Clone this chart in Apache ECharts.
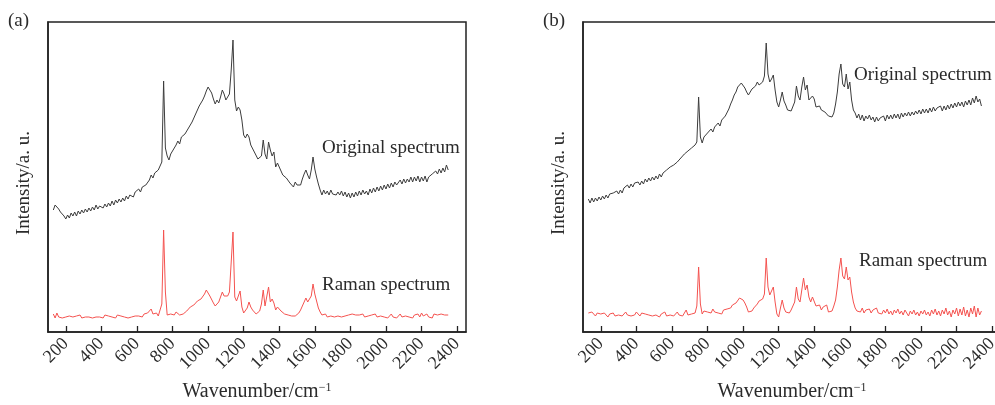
<!DOCTYPE html>
<html>
<head>
<meta charset="utf-8">
<script src="https://cdn.jsdelivr.net/npm/echarts@6/dist/echarts.min.js"></script>
<style>
  html, body { margin: 0; padding: 0; background: #fff; }
  #chart { width: 995px; height: 405px; }
</style>
</head>
<body>
<div id="chart"></div>
<script>
// wavenumber grid (cm-1), shared by all four traces
var wavenumbers = [
  130,140,150,160,170,180,190,200,210,220,
  230,240,250,260,270,280,290,300,310,320,
  330,340,350,360,370,380,390,400,410,420,
  430,440,450,460,470,480,490,500,510,520,
  530,540,550,560,570,580,590,600,610,620,
  630,640,650,660,670,680,690,700,710,720,
  730,740,750,760,770,780,790,800,810,820,
  830,840,850,860,870,880,890,900,910,920,
  930,940,950,960,970,980,990,1000,1010,1020,
  1030,1040,1050,1060,1070,1080,1090,1100,1110,1120,
  1130,1140,1150,1160,1170,1180,1190,1200,1210,1220,
  1230,1240,1250,1260,1270,1280,1290,1300,1310,1320,
  1330,1340,1350,1360,1370,1380,1390,1400,1410,1420,
  1430,1440,1450,1460,1470,1480,1490,1500,1510,1520,
  1530,1540,1550,1560,1570,1580,1590,1600,1610,1620,
  1630,1640,1650,1660,1670,1680,1690,1700,1710,1720,
  1730,1740,1750,1760,1770,1780,1790,1800,1810,1820,
  1830,1840,1850,1860,1870,1880,1890,1900,1910,1920,
  1930,1940,1950,1960,1970,1980,1990,2000,2010,2020,
  2030,2040,2050,2060,2070,2080,2090,2100,2110,2120,
  2130,2140,2150,2160,2170,2180,2190,2200,2210,2220,
  2230,2240,2250,2260,2270,2280,2290,2300,2310,2320,
  2330,2340,2350
];

// (a) original spectrum, arbitrary units
var origA = [
  122,127,129,123,120,118,116,113,117,114,
  119,116,120,116,121,118,122,119,123,120,
  124,121,125,122,127,123,126,128,124,128,
  125,129,126,131,127,132,129,133,130,134,
  131,136,133,137,138,135,140,139,143,140,
  145,143,147,148,152,157,154,159,157,162,
  163,170,251,184,176,172,178,181,183,187,
  191,188,195,194,198,199,204,203,210,212,
  218,222,226,228,232,236,241,245,243,239,
  233,228,232,229,235,242,238,232,234,238,
  262,292,232,221,225,222,212,197,194,198,
  195,187,185,180,179,173,172,176,192,178,
  173,190,182,176,180,165,169,165,161,157,
  158,154,153,149,149,145,150,147,147,147,
  153,158,162,157,153,162,175,163,155,148,
  142,137,142,138,141,137,142,138,139,137,
  140,137,141,136,140,135,139,134,139,135,
  140,136,141,137,142,138,141,137,143,139,
  144,140,145,141,146,142,147,143,148,144,
  149,145,150,147,149,152,148,153,149,153,
  150,155,150,155,151,156,150,155,151,156,
  150,155,154,158,156,161,158,163,159,164,
  160,167,162
];

// (a) extracted Raman spectrum
var ramanA = [
  18,14,19,15,17,14,16,15,17,16,
  17,15,17,16,15,17,14,16,15,17,
  15,16,14,16,15,17,15,16,14,17,
  15,16,18,15,16,14,17,15,16,18,
  15,17,14,16,15,17,16,18,16,17,
  15,18,17,19,21,23,18,17,19,16,
  18,28,102,40,17,15,18,16,17,20,
  18,17,19,18,19,21,22,25,24,27,
  29,31,30,33,35,38,42,41,36,35,
  29,26,28,30,35,40,36,34,36,40,
  70,100,35,31,36,41,25,19,18,24,
  30,25,22,20,18,19,21,28,42,26,
  27,45,30,33,29,22,25,27,21,19,
  18,19,17,18,16,17,16,18,19,22,
  26,30,34,30,29,36,48,38,31,24,
  20,17,16,18,15,17,16,18,15,17,
  16,18,15,17,16,14,17,15,18,16,
  17,15,17,16,18,15,17,16,14,17,
  16,18,15,17,16,18,15,17,14,16,
  18,15,17,14,16,18,15,17,16,18,
  15,17,14,17,16,18,15,19,16,14,
  18,15,17,14,18,16,17,15,18,16,
  17,15,17
];

// (b) original spectrum
var origB = [
  133,129,134,130,134,131,135,132,136,133,
  137,134,138,136,139,137,141,138,142,139,
  144,142,147,144,148,145,149,147,150,147,
  151,148,153,150,154,151,155,152,156,153,
  158,155,159,157,162,160,165,164,167,166,
  170,169,174,173,178,177,181,180,184,182,
  187,190,235,195,189,195,197,199,199,203,
  200,205,204,209,206,212,212,216,217,223,
  228,232,237,240,245,247,249,251,244,240,
  237,239,243,241,246,250,247,245,250,256,
  289,258,250,253,257,242,230,225,232,240,
  231,227,222,224,221,223,230,246,236,232,
  245,255,242,247,232,230,236,233,225,223,
  226,222,224,220,222,216,218,215,219,228,
  240,258,268,248,245,258,243,250,232,222,
  219,214,218,212,217,211,216,213,217,212,
  215,210,215,211,214,212,216,211,217,213,
  217,213,218,214,218,213,219,215,219,216,
  220,216,220,217,221,218,222,218,223,219,
  223,219,224,220,225,221,224,222,226,221,
  226,222,227,223,228,224,229,225,230,226,
  230,225,231,227,232,227,234,229,236,230,
  233,226
];

// (b) extracted Raman spectrum
var ramanB = [
  19,17,20,18,16,19,17,18,16,19,
  17,15,18,17,19,16,18,17,19,16,
  18,20,17,19,16,18,17,20,18,16,
  19,17,18,20,17,19,16,18,17,19,
  15,18,17,20,16,18,17,19,16,18,
  20,17,19,16,18,22,17,19,18,20,
  19,26,65,28,18,21,23,20,22,19,
  23,20,22,19,21,18,22,20,23,25,
  24,27,26,29,31,34,33,32,29,25,
  20,18,21,24,22,28,31,29,33,38,
  74,45,37,35,45,30,18,15,24,32,
  24,20,22,19,22,24,30,45,33,30,
  42,54,42,47,35,30,35,33,26,24,
  27,22,25,23,27,20,18,21,26,32,
  45,62,74,56,53,65,52,55,40,30,
  24,21,23,20,24,19,22,20,23,19,
  22,20,24,19,21,18,22,19,23,18,
  21,17,22,19,23,18,21,17,22,19,
  16,21,18,22,17,20,16,21,18,22,
  17,20,16,22,18,23,17,21,16,22,
  18,24,17,21,15,22,18,24,16,23,
  17,25,16,22,15,24,18,26,15,24,
  17,21
];

var tickValues = [200,400,600,800,1000,1200,1400,1600,1800,2000,2200,2400];

function pairs(ys) {
  var out = [];
  for (var i = 0; i < ys.length; i++) out.push([wavenumbers[i], ys[i]]);
  return out;
}

var serifFont = '"Liberation Serif", "Times New Roman", serif';
var inkColor = '#2b2b2b';

function makeX(idx) {
  return {
    gridIndex: idx,
    type: 'value',
    min: 100,
    max: 2450,
    axisLine: {show: true, lineStyle: {color: '#222', width: 1.5}},
    axisTick: {show: true, inside: true, length: 6, customValues: tickValues,
      lineStyle: {color: '#222', width: 1.3}},
    axisLabel: {show: true, rotate: 45, margin: 9, customValues: tickValues,
      formatter: function (v) { return String(v); },
      fontFamily: serifFont, fontSize: 18, color: inkColor},
    splitLine: {show: false},
    name: '{m|Wavenumber/cm}{s|\u22121}',
    nameLocation: 'middle',
    nameGap: 50,
    nameTextStyle: {
      rich: {
        m: {fontFamily: serifFont, fontSize: 20, color: inkColor},
        s: {fontFamily: serifFont, fontSize: 12, color: inkColor, verticalAlign: 'top'}
      }
    }
  };
}

function makeY(idx) {
  return {
    gridIndex: idx,
    type: 'value',
    min: 0,
    max: 310,
    axisLine: {show: true, lineStyle: {color: '#222', width: 1.5}},
    axisTick: {show: false},
    axisLabel: {show: false},
    splitLine: {show: false},
    name: 'Intensity/a. u.',
    nameLocation: 'middle',
    nameGap: 14,
    nameTextStyle: {fontFamily: serifFont, fontSize: 19, color: inkColor, padding: [0, 12, 0, 0]}
  };
}

function makeLine(idx, ys, color) {
  return {
    type: 'line',
    xAxisIndex: idx,
    yAxisIndex: idx,
    data: pairs(ys),
    showSymbol: false,
    symbol: 'none',
    silent: true,
    lineStyle: {color: color, width: 1},
    animation: false
  };
}

function label(x, y, str) {
  return {
    type: 'text',
    left: x,
    top: y,
    style: {text: str, font: '19px ' + serifFont, fill: inkColor}
  };
}

var option = {
  animation: false,
  grid: [
    {left: 48, top: 22, width: 418, height: 310, show: true, borderColor: '#222', borderWidth: 1.5, outerBoundsMode: 'none'},
    {left: 583, top: 22, width: 418, height: 310, show: true, borderColor: '#222', borderWidth: 1.5, outerBoundsMode: 'none'}
  ],
  xAxis: [makeX(0), makeX(1)],
  yAxis: [makeY(0), makeY(1)],
  series: [
    makeLine(0, origA, '#3c3c3c'),
    makeLine(0, ramanA, '#f4524f'),
    makeLine(1, origB, '#3c3c3c'),
    makeLine(1, ramanB, '#f4524f')
  ],
  graphic: [
    label(8, 12, '(a)'),
    label(543, 12, '(b)'),
    label(322, 139, 'Original spectrum'),
    label(322, 276, 'Raman spectrum'),
    label(854, 66, 'Original spectrum'),
    label(859, 252, 'Raman spectrum')
  ]
};

var myChart = echarts.init(document.getElementById('chart'));
myChart.setOption(option, true);
</script>
</body>
</html>
